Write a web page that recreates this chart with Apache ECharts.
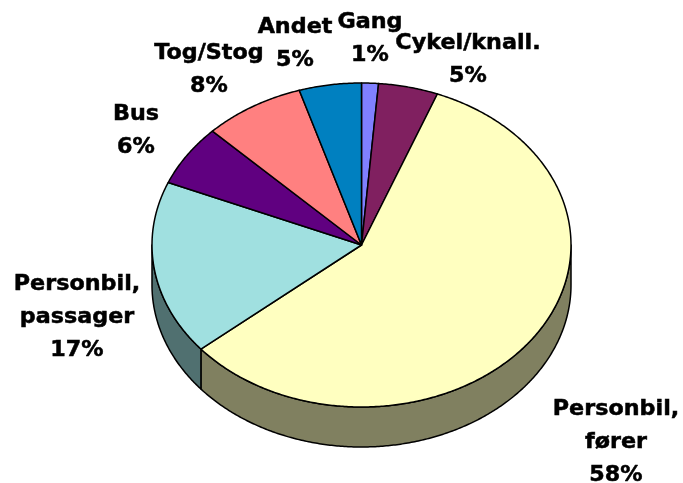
<!DOCTYPE html>
<html>
<head>
<meta charset="utf-8">
<title>Personbil</title>
<script src="https://cdn.jsdelivr.net/npm/echarts@6/dist/echarts.min.js"></script>
<style>
  html, body { margin: 0; padding: 0; background: #fff; }
  #main { width: 683px; height: 483px; }
</style>
</head>
<body>
<div id="main"></div>
<script>
// andele i procent, med uret fra toppen
const categories = ['Gang', 'Cykel/knall.', 'Personbil,\nfører', 'Personbil,\npassager', 'Bus', 'Tog/Stog', 'Andet'];
const shares = [1.3, 4.6, 58, 17.4, 6.1, 7.8, 4.8];

const topColors = ['#8080FF', '#802060', '#FFFFC0', '#A0E0E0', '#600080', '#FF8080', '#0080C0'];
const sideColors = ['#404080', '#401030', '#808060', '#507070', '#300040', '#804040', '#004060'];
// midtpunkt for hver label
const labelPos = [[370, 39], [468, 60], [616, 442.5], [77, 318], [136, 131], [209, 70], [295, 44]];

const DEPTH = 40;
const chartDom = document.getElementById('main');
const myChart = echarts.init(chartDom);

let sum = 0;
const sliceData = shares.map((v, i) => {
  const row = [sum, sum + v, i];
  sum += v;
  return row;
});

// punkt paa ellipsen: grad med uret fra toppen -> akseenheder -> pixels
const rimPoint = (api, deg) => {
  const rad = deg * Math.PI / 180;
  return api.coord([Math.sin(rad), Math.cos(rad)]);
};

const arcPoints = (api, from, to) => {
  const pts = [];
  const steps = Math.max(2, Math.ceil((to - from) * 2));
  for (let i = 0; i <= steps; i++) {
    pts.push(rimPoint(api, from + (to - from) * i / steps));
  }
  return pts;
};

const renderWall = (params, api) => {
  const from = Math.max(api.value(0) * 3.6, 90);
  const to = Math.min(api.value(1) * 3.6, 270);
  if (to <= from) return null;
  const upper = arcPoints(api, from, to);
  const lower = upper.map(p => [p[0], p[1] + DEPTH]).reverse();
  return {
    type: 'polygon',
    shape: { points: upper.concat(lower) },
    style: { fill: sideColors[api.value(2)], stroke: '#000', lineWidth: 1.5, lineJoin: 'round' }
  };
};

const renderTop = (params, api) => {
  const from = api.value(0) * 3.6;
  const to = api.value(1) * 3.6;
  const points = [api.coord([0, 0])].concat(arcPoints(api, from, to));
  return {
    type: 'polygon',
    shape: { points: points },
    style: { fill: topColors[api.value(2)], stroke: '#000', lineWidth: 1.5, lineJoin: 'round' }
  };
};

const option = {
  animation: false,
  backgroundColor: '#fff',
  grid: { left: 152, top: 83, width: 419, height: 324 },
  xAxis: { type: 'value', min: -1, max: 1, show: false },
  yAxis: { type: 'value', min: -1, max: 1, show: false },
  series: [
    { type: 'custom', coordinateSystem: 'cartesian2d', z: 1, silent: true, clip: false, data: sliceData, renderItem: renderWall },
    { type: 'custom', coordinateSystem: 'cartesian2d', z: 2, silent: true, clip: false, data: sliceData, renderItem: renderTop }
  ],
  graphic: {
    elements: categories.map((name, i) => ({
      type: 'text',
      x: labelPos[i][0],
      y: labelPos[i][1],
      scaleX: 1.06,
      z: 10,
      style: {
        text: name + '\n' + Math.round(shares[i]) + '%',
        font: 'bold 21px "DejaVu Sans"',
        fill: '#000',
        stroke: '#000',
        lineWidth: 0.5,
        align: 'center',
        verticalAlign: 'middle',
        lineHeight: 33
      }
    }))
  }
};
myChart.setOption(option);
</script>
</body>
</html>
